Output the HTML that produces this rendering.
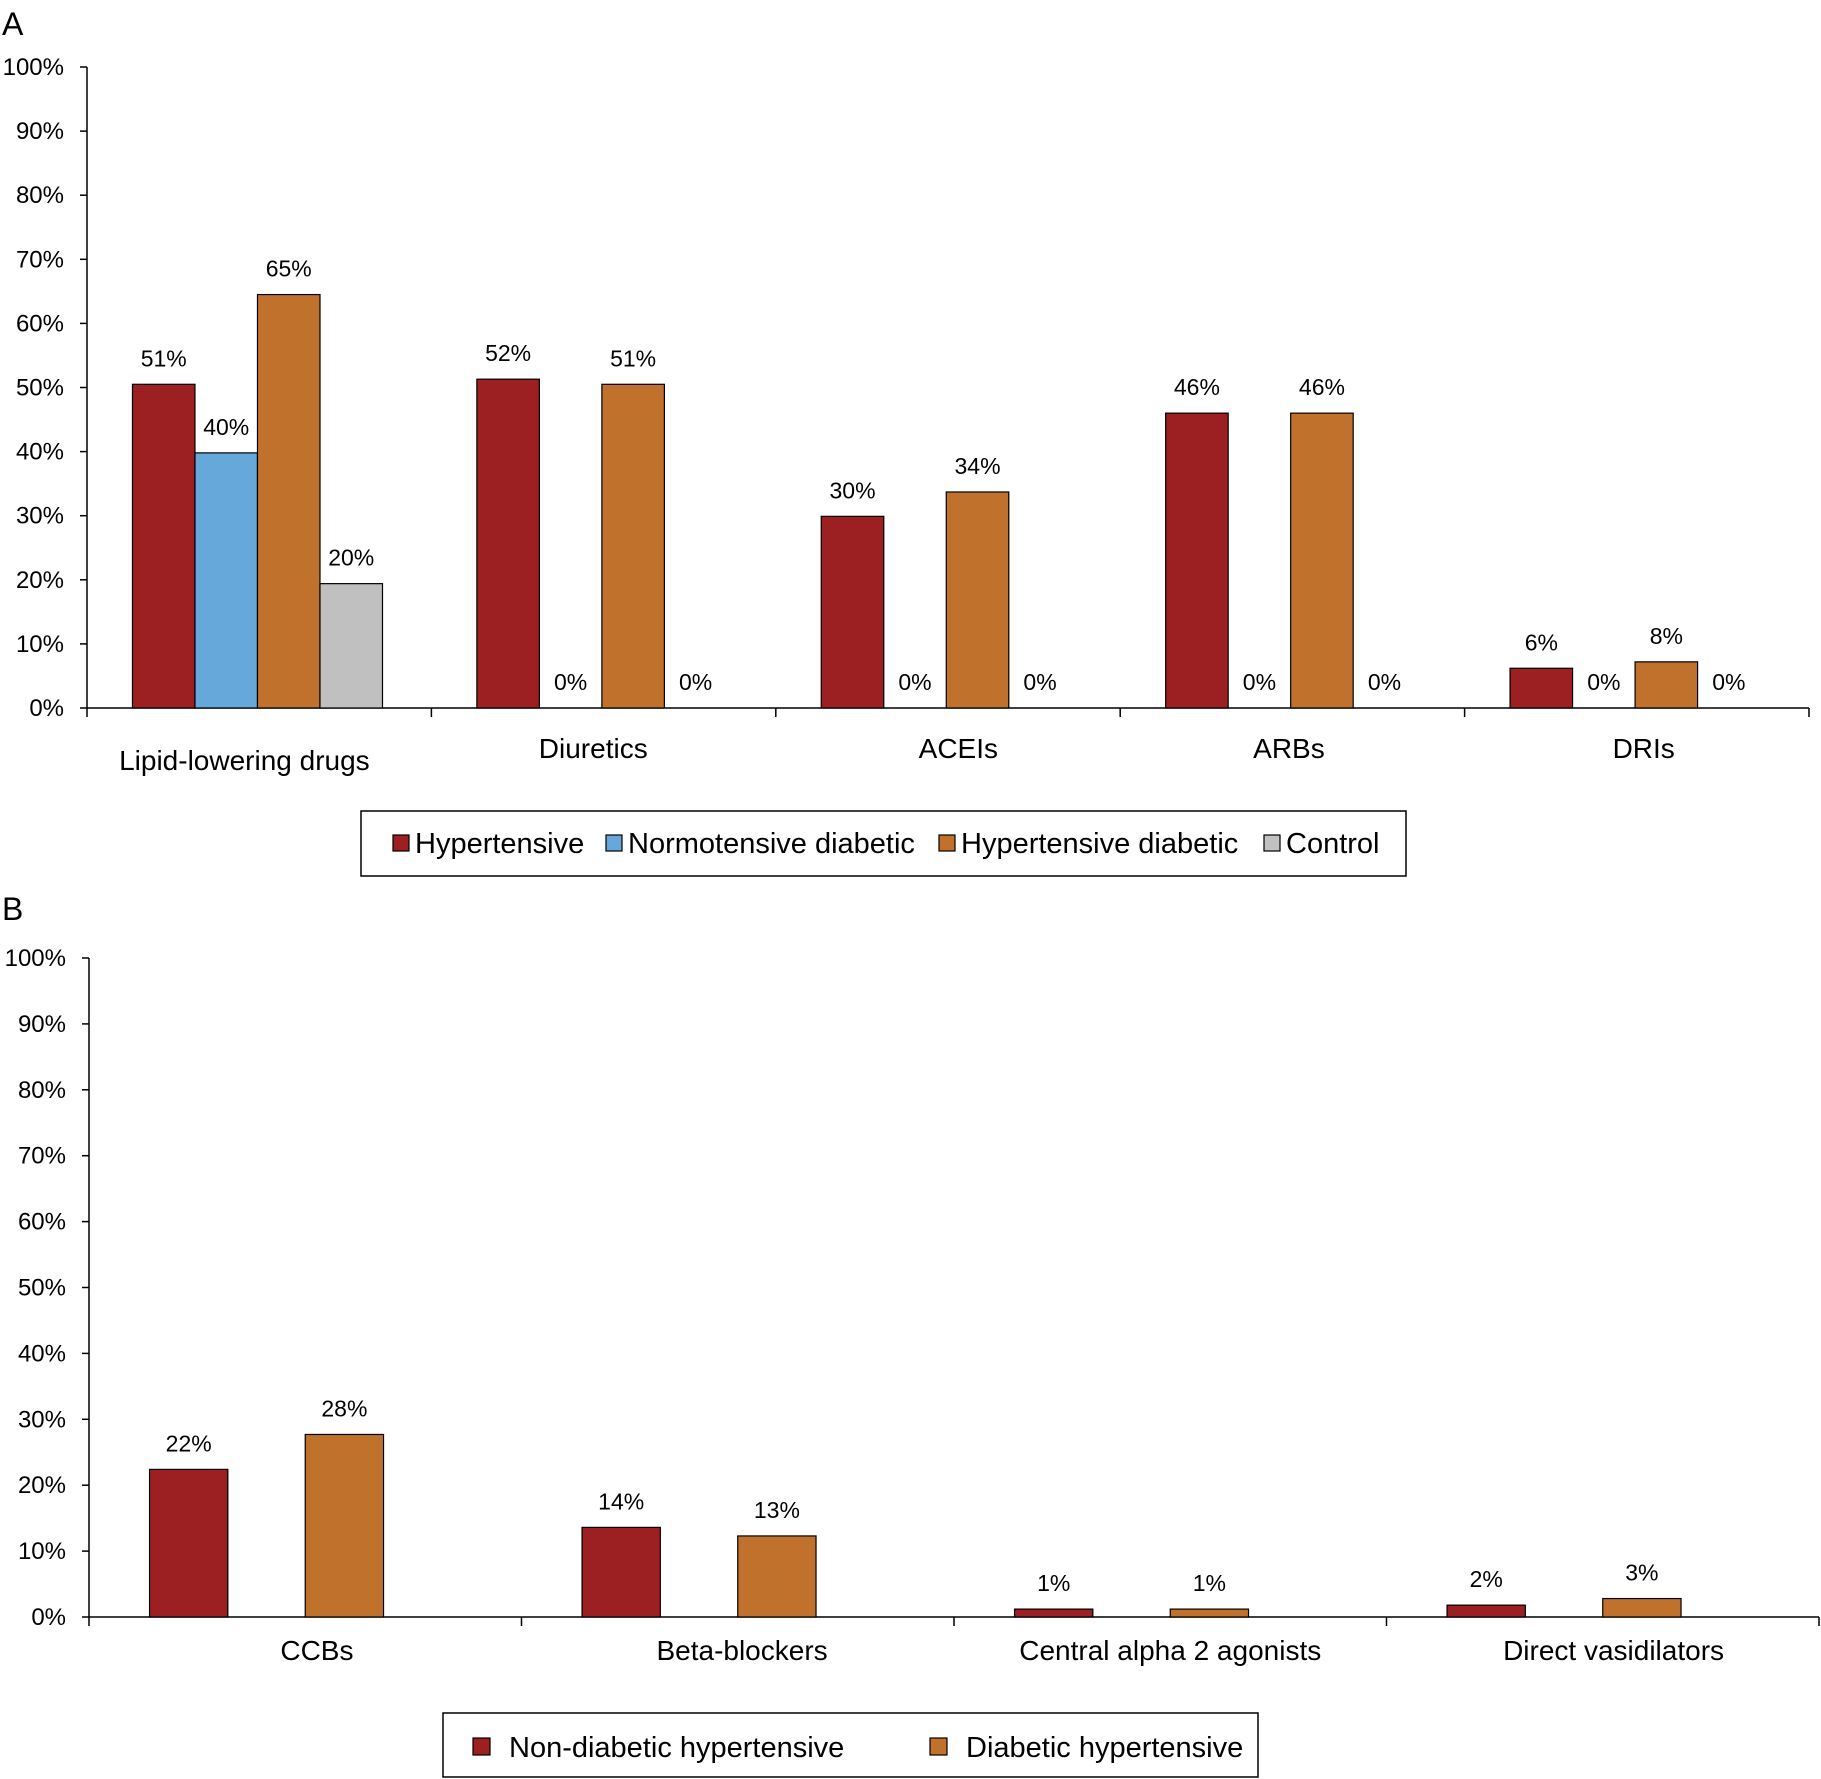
<!DOCTYPE html>
<html><head><meta charset="utf-8"><style>
html,body{margin:0;padding:0;background:#fff}
svg{display:block;font-family:"Liberation Sans",Arial,sans-serif}
</style></head><body>
<svg id="svg" width="1821" height="1779" viewBox="0 0 1821 1779" xmlns="http://www.w3.org/2000/svg">
<g id="A"></g>
<g id="B"></g>
</svg>
<script>
// Chart A data
const catsA = ["Lipid-lowering drugs","Diuretics","ACEIs","ARBs","DRIs"];
const seriesA = ["Hypertensive","Normotensive diabetic","Hypertensive diabetic","Control"];
const hypA = [50.5, 51.3, 29.9, 46, 6.2];
const normA = [39.8, 0, 0, 0, 0];
const hdA = [64.5, 50.5, 33.7, 46, 7.2];
const ctrlA = [19.4, 0, 0, 0, 0];
const hypLabA = ["51%","52%","30%","46%","6%"];
const normLabA = ["40%","0%","0%","0%","0%"];
const hdLabA = ["65%","51%","34%","46%","8%"];
const ctrlLabA = ["20%","0%","0%","0%","0%"];
// Chart B data
const catsB = ["CCBs","Beta-blockers","Central alpha 2 agonists","Direct vasidilators"];
const seriesB = ["Non-diabetic hypertensive","Diabetic hypertensive"];
const ndB = [22.4, 13.6, 1.2, 1.8];
const dB = [27.7, 12.3, 1.2, 2.8];
const ndLabB = ["22%","14%","1%","2%"];
const dLabB = ["28%","13%","1%","3%"];
const ticks = ["0%","10%","20%","30%","40%","50%","60%","70%","80%","90%","100%"];

const NS="http://www.w3.org/2000/svg";
function mk(parent,tag,attrs,text){const e=document.createElementNS(NS,tag);for(const k in attrs)e.setAttribute(k,attrs[k]);if(text!==undefined)e.textContent=text;parent.appendChild(e);return e;}
const RED="#9c1f22",BLUE="#67a8db",ORANGE="#c0712c",GRAY="#c0c0c0";

function axes(g,x0,x1,y0,y100,ncat){
  const ys=v=>y0-(y0-y100)*v/100;
  let l=mk(g,'line',{x1:x0,y1:y100,x2:x0,y2:y0,stroke:'#000','stroke-width':1.5});
  
  
  ticks.forEach((t,i)=>{
    const y=ys(i*10);
    mk(g,'line',{x1:x0-7,y1:y,x2:x0,y2:y,stroke:'#000','stroke-width':1.5});
    const tx=mk(g,'text',{x:x0-23,y:y+8,'text-anchor':'end','font-size':24},t);
    
    
  });
  l=mk(g,'line',{x1:x0,y1:y0,x2:x1,y2:y0,stroke:'#000','stroke-width':1.5});
  
  
  const cw=(x1-x0)/ncat;
  for(let i=0;i<=ncat;i++) mk(g,'line',{x1:x0+i*cw,y1:y0,x2:x0+i*cw,y2:y0+9,stroke:'#000','stroke-width':1.5});
  return {ys,cw};
}
function bar(g,x,w,v,ys,y0,fill,lab,name){
  const r=mk(g,'rect',{x:x,y:ys(v),width:w,height:y0-ys(v),fill:fill,stroke:'#000','stroke-width':1.2});
  
  
  const t=mk(g,'text',{x:x+w/2,y:ys(v)-18,'text-anchor':'middle','font-size':23},lab);
  
  
}
// Chart A
(function(){
  const g=document.getElementById('A');
  const x0=87,x1=1809,y0=708,y100=67;
  const t=mk(g,'text',{x:2,y:35,'font-size':32},'A');
  
  
  const {ys,cw}=axes(g,x0,x1,y0,y100,catsA.length);
  const bw=cw*0.1815, off=cw*0.132;
  const sets=[[hypA,hypLabA,RED],[normA,normLabA,BLUE],[hdA,hdLabA,ORANGE],[ctrlA,ctrlLabA,GRAY]];
  const lblShift=[-0.043,-0.03,0.03,-0.01,0.02];
  catsA.forEach((c,i)=>{
    const cx=x0+i*cw;
    sets.forEach((s,j)=>bar(g,cx+off+j*bw,bw,s[0][i],ys,y0,s[2],s[1][i],'bar-'+seriesA[j].toLowerCase().replace(/ /g,'-')+'-'+i));
    const lt=mk(g,'text',{x:cx+cw*(0.5+lblShift[i]),y:i===0?770:758,'text-anchor':'middle','font-size':28},c);
    
    
  });
  const lg=mk(g,'g',{});
  
  
  mk(lg,'rect',{x:361,y:811,width:1045,height:65,fill:'#fff',stroke:'#000','stroke-width':1.5});
  const lx=[393,606,939,1264],cols=[RED,BLUE,ORANGE,GRAY];
  seriesA.forEach((s,i)=>{
    const e=mk(lg,'g',{});
    
    
    mk(e,'rect',{x:lx[i],y:835,width:16,height:16,fill:cols[i],stroke:'#000','stroke-width':1.2});
    mk(e,'text',{x:lx[i]+22,y:853,'font-size':29},s);
  });
})();
// Chart B
(function(){
  const g=document.getElementById('B');
  const x0=89,x1=1819,y0=1617,y100=958;
  const t=mk(g,'text',{x:2,y:920,'font-size':32},'B');
  
  
  const {ys,cw}=axes(g,x0,x1,y0,y100,catsB.length);
  const bw=cw*0.181;
  const lblB=[0.527,0.51,0.5,0.525];
  catsB.forEach((c,i)=>{
    const cx=x0+i*cw;
    bar(g,cx+cw*0.14,bw,ndB[i],ys,y0,RED,ndLabB[i],'bar-non-diabetic-'+i);
    bar(g,cx+cw*0.5,bw,dB[i],ys,y0,ORANGE,dLabB[i],'bar-diabetic-'+i);
    const lt=mk(g,'text',{x:cx+cw*lblB[i],y:1660,'text-anchor':'middle','font-size':28},c);
    
    
  });
  const lg=mk(g,'g',{});
  
  
  mk(lg,'rect',{x:443,y:1713,width:815,height:64,fill:'#fff',stroke:'#000','stroke-width':1.5});
  const lx=[473,930],cols=[RED,ORANGE];
  seriesB.forEach((s,i)=>{
    const e=mk(lg,'g',{});
    
    
    mk(e,'rect',{x:lx[i],y:1738,width:17,height:17,fill:cols[i],stroke:'#000','stroke-width':1.2});
    mk(e,'text',{x:lx[i]+36,y:1757,'font-size':29},s);
  });
})();
</script>
</body></html>
